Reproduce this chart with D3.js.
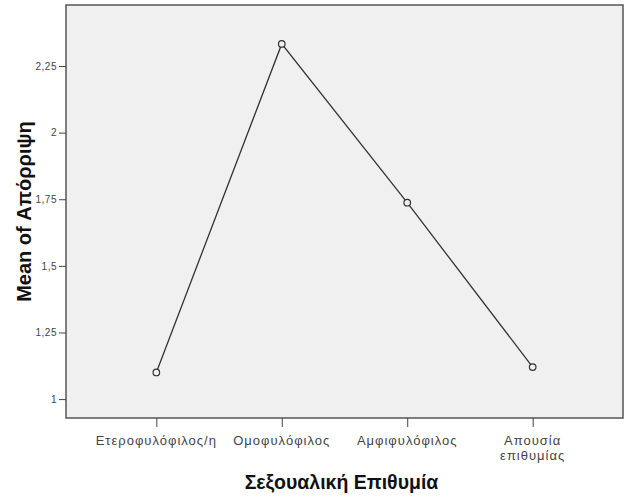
<!DOCTYPE html>
<html>
<head>
<meta charset="utf-8">
<script src="https://cdn.jsdelivr.net/npm/d3@7"></script>
<style>
  body { margin: 0; background: #fff; }
  svg { display: block; font-family: "Liberation Sans", Arial, sans-serif; }
</style>
</head>
<body>
<div id="chart"></div>
<script>
// categories and means
const categories = ["Ετεροφυλόφιλος/η", "Ομοφυλόφιλος", "Αμφιφυλόφιλος", "Απουσία επιθυμίας"];
const meanValues = [1.10, 2.333, 1.737, 1.12];
const yTicks = [1, 1.25, 1.5, 1.75, 2, 2.25];

const width = 632, height = 497;
const frame = { left: 66, top: 5, right: 623, bottom: 418 };

const svg = d3.select("#chart").append("svg")
  .attr("width", width)
  .attr("height", height);

const x = d3.scalePoint()
  .domain(categories)
  .range([frame.left, frame.right])
  .padding(0.72);

const y = d3.scaleLinear()
  .domain([0.929, 2.479])
  .range([frame.bottom, frame.top]);

// plot background + frame
svg.append("rect")
  .attr("x", frame.left).attr("y", frame.top)
  .attr("width", frame.right - frame.left)
  .attr("height", frame.bottom - frame.top)
  .attr("fill", "#f0f0f0")
  .attr("stroke", "#555")
  .attr("stroke-width", 1.5);

const fmt = d => String(d).replace(".", ",");

const yAxis = svg.append("g")
  .attr("transform", `translate(${frame.left},0)`)
  .call(d3.axisLeft(y).tickValues(yTicks).tickFormat(fmt).tickSize(7).tickPadding(2));
yAxis.select(".domain").remove();
yAxis.selectAll(".tick line").attr("stroke", "#444");
yAxis.selectAll(".tick text").attr("fill", "#444").attr("font-size", 10)
  .attr("letter-spacing", 0.5)
  .attr("font-family", "Liberation Sans, Arial, sans-serif");

const xAxis = svg.append("g")
  .attr("transform", `translate(0,${frame.bottom})`)
  .call(d3.axisBottom(x).tickSize(9).tickFormat(""));
xAxis.select(".domain").remove();
xAxis.selectAll(".tick line").attr("stroke", "#444");

// category labels, wrapped where the original wraps
const wrap = { "Απουσία επιθυμίας": ["Απουσία", "επιθυμίας"] };
categories.forEach(c => {
  const lines = wrap[c] || [c];
  const t = svg.append("text")
    .attr("x", x(c))
    .attr("y", 445)
    .attr("text-anchor", "middle")
    .attr("font-size", 13)
    .attr("letter-spacing", 1)
    .attr("fill", "#444");
  lines.forEach((l, i) => {
    t.append("tspan").attr("x", x(c)).attr("dy", i === 0 ? 0 : 15).text(l);
  });
});

// axis titles
svg.append("text")
  .attr("x", (frame.left + frame.right) / 2 - 3)
  .attr("y", 489)
  .attr("text-anchor", "middle")
  .attr("font-size", 19.5)
  .attr("font-weight", "bold")
  .attr("fill", "#111")
  .text("Σεξουαλική Επιθυμία");

svg.append("text")
  .attr("transform", `translate(31,${(frame.top + frame.bottom) / 2}) rotate(-90)`)
  .attr("text-anchor", "middle")
  .attr("font-size", 20)
  .attr("font-weight", "bold")
  .attr("fill", "#111")
  .text("Mean of Απόρριψη");

// line + markers
const pts = categories.map((c, i) => ({ c, v: meanValues[i] }));

svg.append("path")
  .datum(pts)
  .attr("fill", "none")
  .attr("stroke", "#333")
  .attr("stroke-width", 1.3)
  .attr("d", d3.line().x(d => x(d.c)).y(d => y(d.v)));

svg.append("g")
  .selectAll("circle")
  .data(pts)
  .join("circle")
  .attr("cx", d => x(d.c))
  .attr("cy", d => y(d.v))
  .attr("r", 3.3)
  .attr("fill", "#f0f0f0")
  .attr("stroke", "#333")
  .attr("stroke-width", 1.2);
</script>
</body>
</html>
